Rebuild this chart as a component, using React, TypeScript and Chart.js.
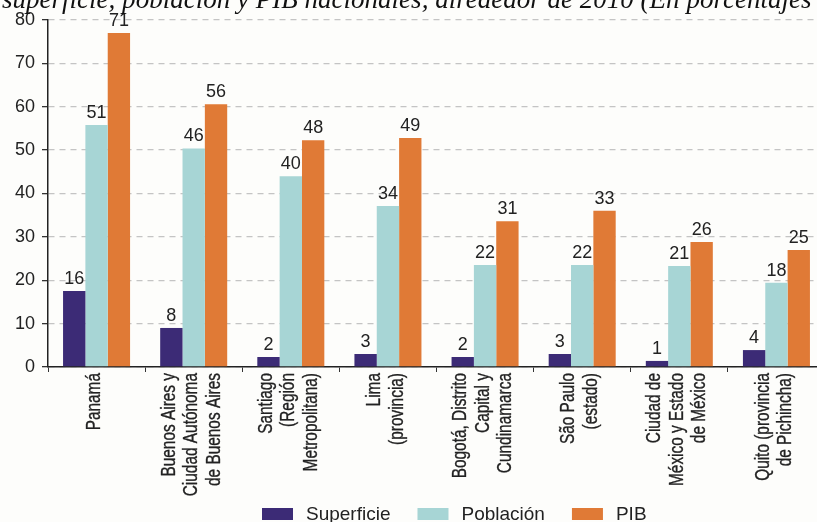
import React, { useEffect, useRef } from "react";
import { Chart, registerables } from "chart.js";

Chart.register(...registerables);

const categories: string[][] = [
  ["Panamá"],
  ["Buenos Aires y", "Ciudad Autónoma", "de Buenos Aires"],
  ["Santiago", "(Región", "Metropolitana)"],
  ["Lima", "(provincia)"],
  ["Bogotá, Distrito", "Capital y", "Cundinamarca"],
  ["São Paulo", "(estado)"],
  ["Ciudad de", "México y Estado", "de México"],
  ["Quito (provincia", "de Pichincha)"],
];

// bar heights as drawn in the picture
const superficie = [17.5, 9.0, 2.3, 3.0, 2.3, 3.0, 1.4, 3.9];
const poblacion = [55.8, 50.4, 44.0, 37.1, 23.5, 23.5, 23.3, 19.4];
const pib = [77.0, 60.6, 52.3, 52.8, 33.6, 36.0, 28.8, 27.0];

// value labels printed above the bars
const superficieLabels = ["16", "8", "2", "3", "2", "3", "1", "4"];
const poblacionLabels = ["51", "46", "40", "34", "22", "22", "21", "18"];
const pibLabels = ["71", "56", "48", "49", "31", "33", "26", "25"];

const seriesNames = ["Superficie", "Población", "PIB"];
const seriesColors = ["#3c2b76", "#a7d5d5", "#e07a36"];

const yMin = 0;
const yMax = 80;
const yStep = 10;

const titleText =
  "superficie, población y PIB nacionales, alrededor de 2010 (En porcentajes";

const TEXT = "#222222";
const SANS = "'Liberation Sans', Arial, sans-serif";

const valueLabelPlugin = {
  id: "valueLabels",
  afterDatasetsDraw(chart: any) {
    const ctx = chart.ctx;
    const labelSets = [superficieLabels, poblacionLabels, pibLabels];
    ctx.save();
    ctx.font = `18px ${SANS}`;
    ctx.fillStyle = TEXT;
    ctx.textAlign = "center";
    ctx.textBaseline = "bottom";
    chart.data.datasets.forEach((_ds: any, di: number) => {
      const meta = chart.getDatasetMeta(di);
      meta.data.forEach((bar: any, i: number) => {
        ctx.fillText(labelSets[di][i], bar.x, bar.y - 3);
      });
    });
    ctx.restore();
  },
};

// condensed, rotated, multi-line category labels centred on each tick
const categoryLabelPlugin = {
  id: "categoryLabels",
  afterDraw(chart: any) {
    const ctx = chart.ctx;
    const xs = chart.scales.x;
    const lh = 22.5;
    const top = xs.top + 6;
    ctx.save();
    ctx.font = `20px ${SANS}`;
    ctx.fillStyle = TEXT;
    ctx.strokeStyle = TEXT;
    ctx.lineWidth = 0.35;
    ctx.textAlign = "right";
    ctx.textBaseline = "middle";
    (chart.data.labels as string[][]).forEach((lines, i) => {
      const cx = xs.getPixelForTick(i);
      const n = lines.length;
      lines.forEach((line, j) => {
        const lx = cx + (j - (n - 1) / 2) * lh - 2;
        ctx.save();
        ctx.translate(lx, top);
        ctx.rotate(-Math.PI / 2);
        ctx.scale(0.77, 1);
        ctx.fillText(line, 0, 0);
        ctx.strokeText(line, 0, 0);
        ctx.restore();
      });
    });
    ctx.restore();
  },
};

const titlePlugin = {
  id: "cutTitle",
  afterDraw(chart: any) {
    const ctx = chart.ctx;
    ctx.save();
    let size = 24;
    ctx.font = `italic ${size}px 'Liberation Serif', 'Times New Roman', serif`;
    const w = ctx.measureText(titleText).width;
    size = (size * 810) / w;
    ctx.font = `italic ${size}px 'Liberation Serif', 'Times New Roman', serif`;
    ctx.fillStyle = "#111";
    ctx.textAlign = "left";
    ctx.textBaseline = "alphabetic";
    ctx.fillText(titleText, 2, 8);
    ctx.restore();
  },
};

const legendPlugin = {
  id: "customLegend",
  afterDraw(chart: any) {
    const ctx = chart.ctx;
    ctx.save();
    ctx.font = `19px ${SANS}`;
    const boxW = 31;
    const boxH = 12;
    const gap = 13;
    const pad = 27;
    const cy = 514;
    let x = 262;
    ctx.textBaseline = "middle";
    ctx.textAlign = "left";
    seriesNames.forEach((name, i) => {
      ctx.fillStyle = seriesColors[i];
      ctx.fillRect(x, cy - boxH / 2, boxW, boxH);
      ctx.fillStyle = TEXT;
      ctx.fillText(name, x + boxW + gap, cy + 1);
      x += boxW + gap + ctx.measureText(name).width + pad;
    });
    ctx.restore();
  },
};

export default function App() {
  const canvasRef = useRef<HTMLCanvasElement | null>(null);

  useEffect(() => {
    const canvas = canvasRef.current;
    if (!canvas) return;
    const chart = new Chart(canvas, {
      type: "bar",
      data: {
        labels: categories,
        datasets: [
          { label: seriesNames[0], data: superficie, backgroundColor: seriesColors[0] },
          { label: seriesNames[1], data: poblacion, backgroundColor: seriesColors[1] },
          { label: seriesNames[2], data: pib, backgroundColor: seriesColors[2] },
        ],
      },
      options: {
        responsive: false,
        animation: false,
        layout: { padding: { top: 20, right: 0, left: 0, bottom: 0 } },
        datasets: {
          bar: { categoryPercentage: 0.69, barPercentage: 1.0 },
        },
        plugins: {
          legend: { display: false },
          tooltip: { enabled: false },
          title: { display: false },
        },
        scales: {
          x: {
            afterFit(scale: any) {
              scale.height = 155;
            },
            grid: {
              display: true,
              drawOnChartArea: false,
              drawTicks: true,
              tickLength: 5,
              tickColor: "#333",
              offset: true,
            },
            border: { display: true, color: "#222", width: 1.5 },
            ticks: {
              display: false,
              autoSkip: false,
            },
          },
          y: {
            min: yMin,
            max: yMax,
            afterFit(scale: any) {
              scale.width = 48;
            },
            ticks: {
              stepSize: yStep,
              padding: 7,
              color: TEXT,
              font: { family: SANS, size: 18 },
            },
            grid: {
              color: "#c4c4c4",
              lineWidth: 1.3,
              tickColor: "#333",
              tickLength: 6,
              tickBorderDash: [],
            },
            border: { display: true, color: "#222", width: 1.5, dash: [6, 5] },
          },
        },
      },
      plugins: [valueLabelPlugin, categoryLabelPlugin, titlePlugin, legendPlugin],
    });
    return () => chart.destroy();
  }, []);

  return (
    <div
      style={{
        position: "absolute",
        left: 0,
        top: 0,
        width: 817,
        height: 522,
        overflow: "hidden",
        background: "#fdfdfb",
      }}
    >
      <canvas ref={canvasRef} width={825} height={522} style={{ display: "block" }} />
    </div>
  );
}
